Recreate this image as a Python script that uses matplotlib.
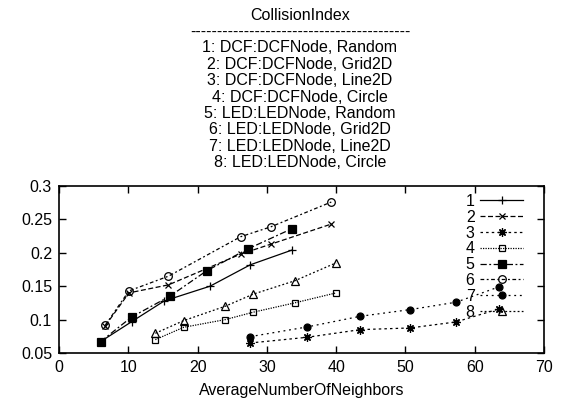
import matplotlib
matplotlib.use("Agg")
import matplotlib.pyplot as plt

plt.rcParams['font.family'] = ['Liberation Sans', 'DejaVu Sans']

title = "CollisionIndex"
labels = ["1: DCF:DCFNode, Random", "2: DCF:DCFNode, Grid2D", "3: DCF:DCFNode, Line2D",
          "4: DCF:DCFNode, Circle", "5: LED:LEDNode, Random", "6: LED:LEDNode, Grid2D",
          "7: LED:LEDNode, Line2D", "8: LED:LEDNode, Circle"]
keys = ["1", "2", "3", "4", "5", "6", "7", "8"]

x1 = [6.0, 10.5, 15.2, 21.8, 27.6, 33.6]
y1 = [0.067, 0.097, 0.128, 0.150, 0.182, 0.204]
x2 = [6.7, 10.1, 15.8, 26.2, 30.6, 39.3]
y2 = [0.091, 0.140, 0.152, 0.198, 0.213, 0.243]
x3 = [27.6, 35.8, 43.5, 50.7, 57.3, 63.5]
y3 = [0.065, 0.0735, 0.085, 0.0875, 0.0965, 0.116]
x4 = [13.9, 18.0, 24.0, 28.0, 34.0, 40.0]
y4 = [0.070, 0.0885, 0.100, 0.111, 0.125, 0.140]
x5 = [6.0, 10.5, 16.0, 21.3, 27.3, 33.6]
y5 = [0.067, 0.104, 0.135, 0.173, 0.206, 0.236]
x6 = [6.7, 10.1, 15.8, 26.2, 30.6, 39.3]
y6 = [0.092, 0.143, 0.165, 0.224, 0.239, 0.276]
x7 = [27.6, 35.8, 43.5, 50.7, 57.3, 63.5]
y7 = [0.0745, 0.089, 0.105, 0.115, 0.126, 0.149]
x8 = [13.9, 18.0, 24.0, 28.0, 34.0, 40.0]
y8 = [0.0795, 0.0985, 0.120, 0.138, 0.158, 0.185]

xs = [x1, x2, x3, x4, x5, x6, x7, x8]
ys = [y1, y2, y3, y4, y5, y6, y7, y8]

styles = [
    dict(ls='-', marker='+', ms=6, mfc='black'),
    dict(ls=(0, (4, 2)), marker='x', ms=5, mfc='black'),
    dict(ls=(0, (2, 2.5)), marker=(8, 2, 0), ms=6, mfc='black'),
    dict(ls=(0, (1, 1)), marker='s', ms=5, mfc='none'),
    dict(ls=(0, (5, 2, 1.5, 2)), marker='s', ms=6, mfc='black'),
    dict(ls=(0, (3, 2, 1.5, 2)), marker='o', ms=5.5, mfc='none'),
    dict(ls=(0, (1.5, 3)), marker='o', ms=5, mfc='black'),
    dict(ls=(0, (1.5, 1.8)), marker='^', ms=5.5, mfc='none'),
]

FS = 11.5

fig = plt.figure(figsize=(5.63, 4.08), dpi=100)
ax = fig.add_axes([59/563, 1-353/408, (544-59)/563, (353-186)/408])

for k, x, y, st in zip(keys, xs, ys, styles):
    ax.plot(x, y, color='black', lw=0.9, mec='black', mew=0.9, label=k, **st)

ax.set_xlim(0, 70)
ax.set_ylim(0.05, 0.3)
ax.set_xticks([0, 10, 20, 30, 40, 50, 60, 70])
ax.set_yticks([0.05, 0.1, 0.15, 0.2, 0.25, 0.3])
ax.set_yticklabels(["0.05", "0.1", "0.15", "0.2", "0.25", "0.3"])
ax.tick_params(direction='in', top=True, right=True, length=5, width=1,
               labelsize=FS, pad=5)
for s in ax.spines.values():
    s.set_linewidth(1.2)
ax.set_xlabel("AverageNumberOfNeighbors", fontsize=FS, labelpad=6)

leg = ax.legend(loc='upper right', bbox_to_anchor=(0.977, 1.01), frameon=False,
                markerfirst=False, fontsize=FS, handlelength=2.7,
                labelspacing=0.05, handletextpad=0.35, borderaxespad=0.2)

fig.text(300/563, 1-15/408, title, ha='center', va='center', fontsize=FS)
fig.text(300/563, 1-32/408, "-" * 41, ha='center', va='center', fontsize=FS)
for i, lab in enumerate(labels):
    fig.text(300/563, 1-(48 + i*16.4)/408, lab, ha='center', va='center', fontsize=FS)

fig.savefig("out.png", dpi=100)
